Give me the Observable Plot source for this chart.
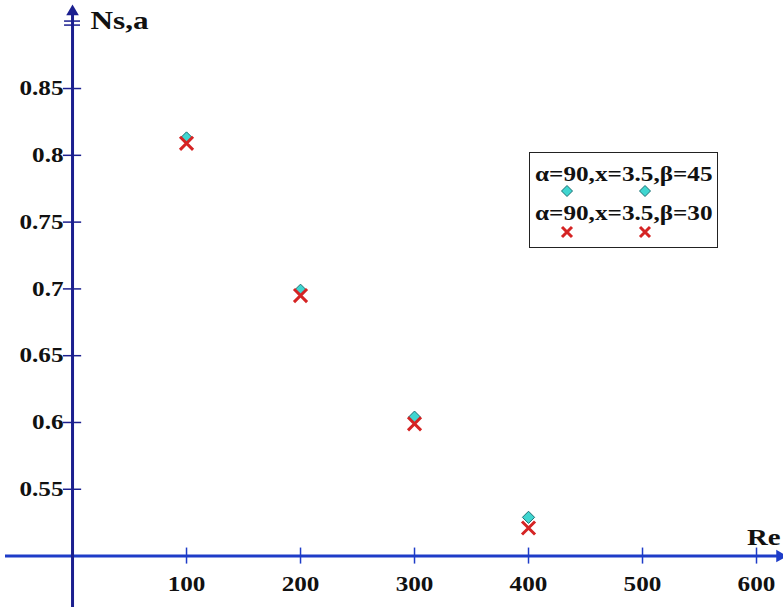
<!DOCTYPE html>
<html><head><meta charset="utf-8">
<script src="https://cdn.jsdelivr.net/npm/d3@7"></script>
<script src="https://cdn.jsdelivr.net/npm/@observablehq/plot@0.6"></script>
<style>
body{margin:0;background:#fff;}
#wrap{position:relative;width:783px;height:607px;overflow:hidden;}
#legend{position:absolute;left:529px;top:152px;width:187px;height:94px;border:1.5px solid #222;background:#fff;
 font-family:"Liberation Serif","Times New Roman",serif;font-weight:bold;font-size:21px;color:#111;}
#legend .row{position:absolute;left:5px;white-space:nowrap;transform:scaleX(1.2);transform-origin:left center;line-height:24px;}
#legend svg{position:absolute;}
</style>
</head><body>
<div id="wrap"><div id="chart"></div><div id="legend"></div></div>
<script>
const re = [100, 200, 300, 400];
const beta45 = [0.813, 0.699, 0.604, 0.529];
const beta30 = [0.809, 0.695, 0.599, 0.521];
const seriesNames = ["α=90,x=3.5,β=45", "α=90,x=3.5,β=30"];
const xTicks = [100, 200, 300, 400, 500, 600];
const yTicks = [0.55, 0.6, 0.65, 0.7, 0.75, 0.8, 0.85];
const yTickLabels = ["0.55", "0.6", "0.65", "0.7", "0.75", "0.8", "0.85"];
const xLabel = "Re";
const yLabel = "Ns,a";

const cyan = "#3fd6d0", cyanStroke = "#1c6f73", red = "#d52424";
const yAxisColor = "#1b1f8f", xAxisColor = "#1e3cc8";
const font = "Liberation Serif";

const d45 = re.map((r, i) => ({re: r, v: beta45[i]}));
const d30 = re.map((r, i) => ({re: r, v: beta30[i]}));

const chart = Plot.plot({
  width: 783, height: 607,
  marginLeft: 5, marginRight: 1, marginTop: 0, marginBottom: 0,
  x: {domain: [-58.8, 622.8], axis: null},
  y: {domain: [0.4615, 0.9159], axis: null},
  style: {fontFamily: font, background: "#fff"},
  marks: [
    Plot.ruleY([0.5], {stroke: xAxisColor, strokeWidth: 3}),
    Plot.ruleX([0], {y1: 0.4615, y2: 0.905, stroke: yAxisColor, strokeWidth: 3}),
    Plot.dot([0], {x: 0, y: 0.9075, symbol: "triangle2", r: 6, fill: yAxisColor, stroke: "none"}),
    Plot.ruleY([0.8975, 0.9005], {x1: -7, x2: 7, stroke: yAxisColor, strokeWidth: 1.5}),
    Plot.dot([0], {x: 620.5, y: 0.5, symbol: "triangle2", r: 6, rotate: 90, fill: xAxisColor, stroke: "none"}),
    Plot.ruleY(yTicks, {x1: -8, x2: 8, stroke: yAxisColor, strokeWidth: 1.5}),
    Plot.text(yTicks, {x: 0, y: d => d, text: (d, i) => yTickLabels[i], textAnchor: "end", dx: -9,
      fontSize: 21, fontWeight: "bold", fill: "#111", lineAnchor: "middle"}),
    Plot.ruleX(xTicks, {y1: 0.494, y2: 0.506, stroke: xAxisColor, strokeWidth: 1.5}),
    Plot.text(xTicks, {x: d => d, y: 0.5, text: d => String(d), dy: 28,
      fontSize: 21, fontWeight: "bold", fill: "#111", lineAnchor: "middle"}),
    Plot.text([yLabel], {x: 0, y: 0.9159, text: d => d, textAnchor: "start", dx: 18, dy: 20,
      fontSize: 26, fontWeight: "bold", fill: "#111", lineAnchor: "middle"}),
    Plot.text([xLabel], {x: 622.8, y: 0.5, text: d => d, textAnchor: "end", dx: -2, dy: -19,
      fontSize: 24, fontWeight: "bold", fill: "#111", lineAnchor: "middle"}),
    Plot.dot(d45, {x: "re", y: "v", symbol: "diamond2", r: 5.5, fill: cyan, stroke: cyanStroke, strokeWidth: 1}),
    Plot.dot(d30, {x: "re", y: "v", symbol: "times", r: 6, stroke: red, strokeWidth: 3})
  ]
});
chart.querySelectorAll("text").forEach(t => {
  const tr = t.getAttribute("transform");
  if (tr) {
    t.setAttribute("transform", tr + " scale(1.2,1)");
  } else {
    const x = +(t.getAttribute("x") || 0), y = +(t.getAttribute("y") || 0);
    t.setAttribute("x", 0); t.setAttribute("y", 0);
    t.setAttribute("transform", `translate(${x},${y}) scale(1.2,1)`);
  }
});
document.getElementById("chart").appendChild(chart);

const lg = document.getElementById("legend");
const rows = [
  {name: seriesNames[0], top: 9, mk: 38, kind: "diamond"},
  {name: seriesNames[1], top: 48, mk: 79, kind: "times"}
];
rows.forEach(r => {
  const t = document.createElement("div");
  t.className = "row"; t.style.top = r.top + "px"; t.textContent = r.name;
  lg.appendChild(t);
  [37, 115].forEach(cx => {
    const ns = "http://www.w3.org/2000/svg";
    const s = document.createElementNS(ns, "svg");
    s.setAttribute("width", 14); s.setAttribute("height", 14);
    s.style.left = (cx - 7) + "px"; s.style.top = (r.mk - 7) + "px";
    const p = document.createElementNS(ns, "path");
    if (r.kind === "diamond") {
      p.setAttribute("d", "M7,1.5L12.5,7L7,12.5L1.5,7Z");
      p.setAttribute("fill", cyan); p.setAttribute("stroke", cyanStroke); p.setAttribute("stroke-width", 1);
    } else {
      p.setAttribute("d", "M2,2L12,12M12,2L2,12");
      p.setAttribute("stroke", red); p.setAttribute("stroke-width", 3);
    }
    s.appendChild(p);
    lg.appendChild(s);
  });
});
</script>
</body></html>
